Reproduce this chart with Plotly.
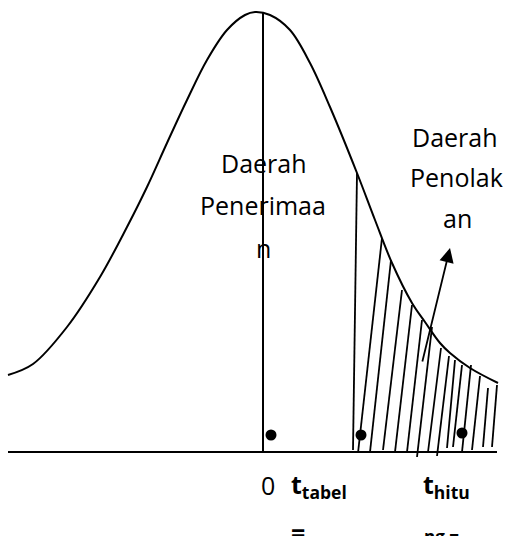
import plotly.graph_objects as go

# ---- data (pixel-like units; y = height above the baseline) ----
curve_x = [8, 33, 67, 100, 127, 147, 167, 187, 207, 227, 245, 255, 270, 290, 310,
           330, 357, 375, 392, 412, 425, 440, 450, 470, 498]
curve_y = [77, 88, 125, 175, 225, 265, 309, 352, 392, 422, 437, 440, 437, 422, 389,
           345, 279, 232, 189, 149, 130, 109, 99, 84, 69]

# hatch lines: bottom x, bottom y, top x, top y
hatch_x0 = [353, 358, 370, 383, 395, 407, 417, 428, 437, 447, 453, 462, 472, 483, 492]
hatch_y0 = [2, -1, 0, 2, 0, 0, -5, 0, -4, 4, 5, 0, 2, 5, 5]
hatch_x1 = [357, 382, 391, 402, 412, 422, 432, 441, 449, 455, 462, 471, 480, 488, 497]
hatch_y1 = [279, 214, 192, 162, 147, 132, 125, 104, 96, 92, 87, 87, 76, 64, 67]

zero_line_x = [263, 263]
zero_line_y = [0, 439]
base_x = [8, 497]
base_y = [0, 0]

dot_x = [271, 361, 462]
dot_y = [17, 17, 19]

arrow_from = (422, 89)
arrow_to = (450, 204)

accept_lines = ["Daerah", "Penerimaa", "n"]
accept_x = [264, 263, 263]
accept_y = [289, 247, 204]
reject_lines = ["Daerah", "Penolak", "an"]
reject_x = [455, 456, 457]
reject_y = [315, 275, 234]

FONT = "Open Sans"
BLACK = "#000000"

fig = go.Figure()

fig.add_trace(go.Scatter(x=curve_x, y=curve_y, mode="lines",
                         line=dict(color=BLACK, width=2, shape="spline", smoothing=1.0),
                         hoverinfo="skip"))

hx, hy = [], []
for a, b, c, d in zip(hatch_x0, hatch_y0, hatch_x1, hatch_y1):
    hx += [a, c, None]
    hy += [b, d, None]
fig.add_trace(go.Scatter(x=hx, y=hy, mode="lines", line=dict(color=BLACK, width=1.8),
                         hoverinfo="skip"))

fig.add_trace(go.Scatter(x=zero_line_x, y=zero_line_y, mode="lines",
                         line=dict(color=BLACK, width=2), hoverinfo="skip"))
fig.add_trace(go.Scatter(x=base_x, y=base_y, mode="lines",
                         line=dict(color=BLACK, width=2), hoverinfo="skip"))
fig.add_trace(go.Scatter(x=dot_x, y=dot_y, mode="markers",
                         marker=dict(color=BLACK, size=11), hoverinfo="skip"))

ann = []
for t, x, y in zip(accept_lines, accept_x, accept_y):
    ann.append(dict(x=x, y=y, text=t, showarrow=False, xanchor="center", yanchor="middle",
                    font=dict(family=FONT, size=25, color=BLACK)))
for t, x, y in zip(reject_lines, reject_x, reject_y):
    ann.append(dict(x=x, y=y, text=t, showarrow=False, xanchor="center", yanchor="middle",
                    font=dict(family=FONT, size=25, color=BLACK)))

ann.append(dict(x=arrow_to[0], y=arrow_to[1], ax=arrow_from[0], ay=arrow_from[1],
                axref="x", ayref="y", xref="x", yref="y", text="", showarrow=True,
                arrowhead=2, arrowsize=1.6, arrowwidth=1.8, arrowcolor=BLACK))

ann.append(dict(x=268, y=-33, text="0", showarrow=False, xanchor="center", yanchor="middle",
                font=dict(family=FONT, size=25, color=BLACK)))
ann.append(dict(x=289, y=-33, text="<b>t<sub>tabel</sub></b>", showarrow=False,
                xanchor="left", yanchor="middle",
                font=dict(family=FONT, size=25, color=BLACK)))
ann.append(dict(x=421, y=-33, text="<b>t<sub>hitu</sub></b>", showarrow=False,
                xanchor="left", yanchor="middle",
                font=dict(family=FONT, size=25, color=BLACK)))
# second lines of the wrapped labels, cut off at the bottom edge as in the reference
ann.append(dict(x=298, y=-80, text="<b>=</b>", showarrow=False, xanchor="center",
                yanchor="middle", font=dict(family=FONT, size=25, color=BLACK)))
ann.append(dict(x=441, y=-84, text="<b>ng =</b>", showarrow=False, xanchor="center",
                yanchor="middle", font=dict(family=FONT, size=17, color=BLACK)))

fig.update_layout(
    width=505, height=536,
    margin=dict(l=0, r=0, t=0, b=0),
    paper_bgcolor="white", plot_bgcolor="white",
    showlegend=False,
    xaxis=dict(range=[0, 505], visible=False, fixedrange=True),
    yaxis=dict(range=[-84, 452], visible=False, fixedrange=True),
    annotations=ann,
)

fig.write_html("out.html", config={"displayModeBar": False},
               post_script="document.body.style.margin='0';document.body.style.overflow='hidden';")
